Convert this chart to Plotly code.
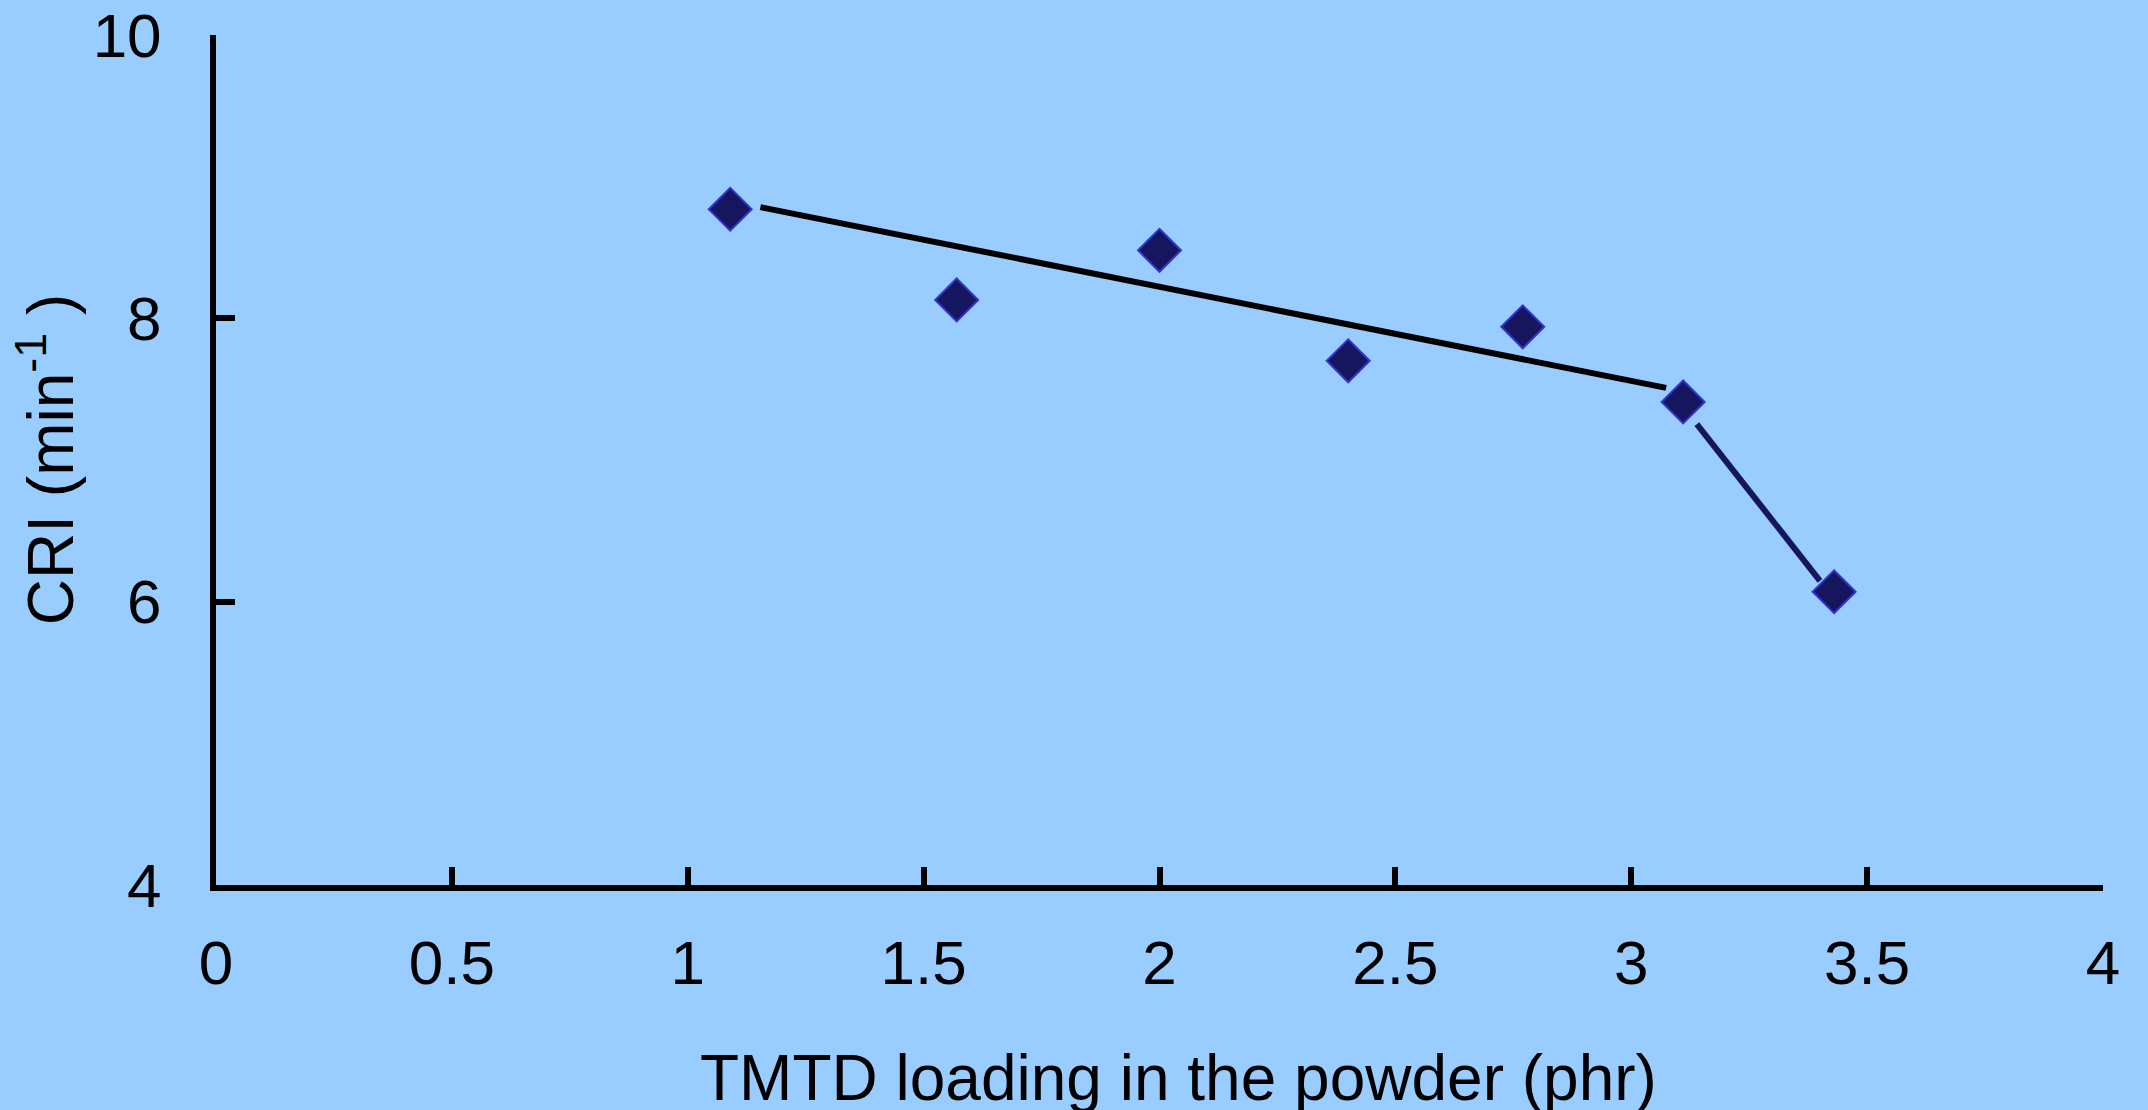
import plotly.graph_objects as go

# Data
tmtd_phr = [1.09, 1.57, 2.00, 2.40, 2.77, 3.11, 3.43]
cri = [8.77, 8.13, 8.48, 7.70, 7.94, 7.41, 6.07]

# Trend lines (endpoints)
trend1_x = [1.154, 3.074]
trend1_y = [8.785, 7.509]
trend2_x = [3.139, 3.400]
trend2_y = [7.253, 6.147]

x_ticks = [0, 0.5, 1, 1.5, 2, 2.5, 3, 3.5, 4]
x_tick_text = ["0", "0.5", "1", "1.5", "2", "2.5", "3", "3.5", "4"]
y_ticks = [4, 6, 8, 10]
y_tick_text = ["4", "6", "8", "10"]

BG = "#99ccff"
NAVY = "#16165e"
FONT = "Liberation Sans, Arial, sans-serif"

fig = go.Figure()
fig.add_trace(go.Scatter(x=trend1_x, y=trend1_y, mode="lines",
                         line=dict(color="black", width=6), showlegend=False))
fig.add_trace(go.Scatter(x=trend2_x, y=trend2_y, mode="lines",
                         line=dict(color=NAVY, width=6), showlegend=False))
fig.add_trace(go.Scatter(x=tmtd_phr, y=cri, mode="markers",
                         marker=dict(symbol="diamond", size=33, color=NAVY,
                                     line=dict(color="#3333cc", width=2)),
                         showlegend=False))

fig.update_layout(
    width=2148, height=1110,
    paper_bgcolor=BG, plot_bgcolor=BG,
    margin=dict(l=216, r=45, t=35, b=225, autoexpand=False),
    font=dict(family=FONT, size=62, color="black"),
)
fig.update_xaxes(range=[0, 4], tickvals=x_ticks, ticktext=x_tick_text,
                 automargin=False,
                 showgrid=False, zeroline=False, showline=True,
                 linecolor="black", linewidth=6,
                 ticks="inside", ticklen=18, tickwidth=6, tickcolor="black",
                 ticklabelstandoff=19, tickfont=dict(size=62))
fig.update_yaxes(range=[4, 10], tickvals=y_ticks, ticktext=y_tick_text,
                 automargin=False,
                 showgrid=False, zeroline=False, showline=True,
                 linecolor="black", linewidth=6,
                 ticks="inside", ticklen=19, tickwidth=6, tickcolor="black",
                 ticklabelstandoff=36, tickfont=dict(size=62))

fig.add_annotation(text="TMTD loading in the powder (phr)", xref="paper", yref="paper",
                   x=0.510, y=-0.182, xanchor="center", yanchor="top",
                   showarrow=False, font=dict(size=64))
fig.add_annotation(text="CRI (min<sup>-1</sup> )", xref="paper", yref="paper",
                   x=-0.090, y=0.5, xanchor="center", yanchor="middle", textangle=-90,
                   showarrow=False, font=dict(size=64))

fig.write_html("out.html", config={"displayModeBar": False},
               post_script="document.body.style.margin='0';")
